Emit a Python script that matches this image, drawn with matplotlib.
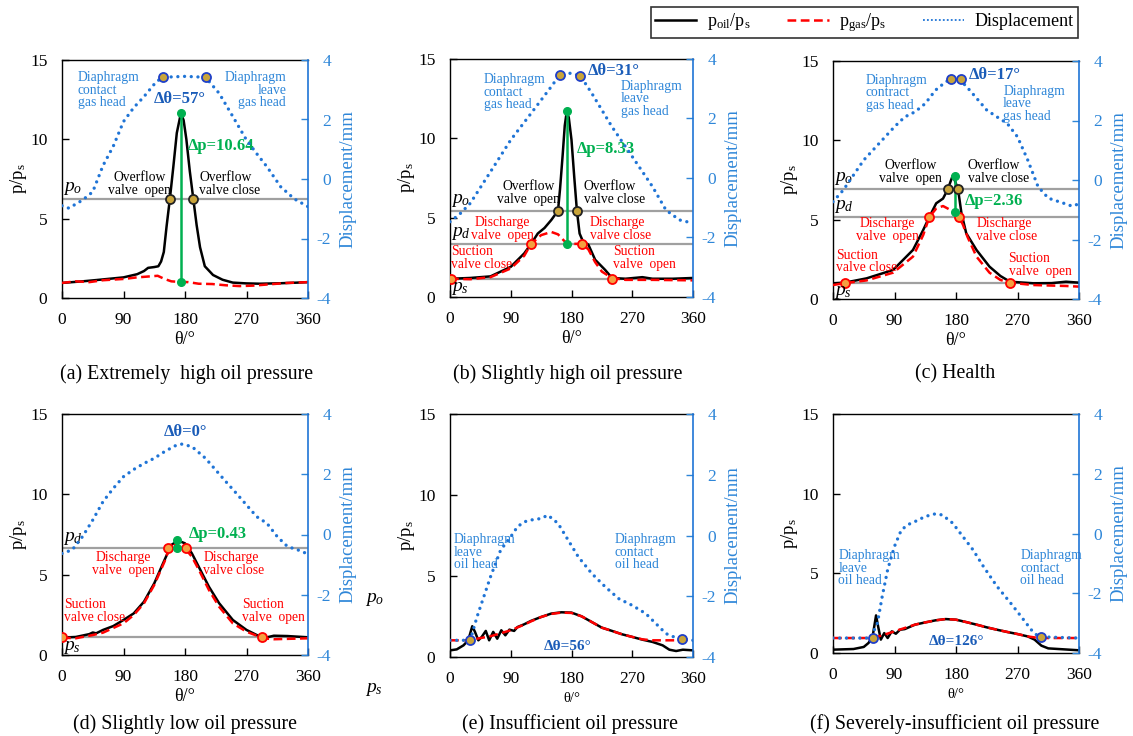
import matplotlib
matplotlib.use('Agg')
import matplotlib.pyplot as plt
from matplotlib.lines import Line2D

plt.rcParams['font.family'] = ['Liberation Serif', 'DejaVu Serif']
plt.rcParams['mathtext.fontset'] = 'custom'
plt.rcParams['mathtext.rm'] = 'Liberation Serif'
plt.rcParams['mathtext.it'] = 'Liberation Serif:italic'
plt.rcParams['mathtext.bf'] = 'Liberation Serif:bold'
plt.rcParams['axes.unicode_minus'] = False

# ---------------- data ----------------
XTICKS = [0, 90, 180, 270, 360]
YTICKS = [0, 5, 10, 15]
DTICKS = [-4, -2, 0, 2, 4]

# (a) Extremely high oil pressure
A_OIL_T = [0, 15, 30, 55, 90, 110, 120, 126, 135, 141, 145, 149, 153, 158, 163, 168, 174, 178, 182, 187, 192, 197, 202, 209, 221, 235, 250, 270, 290, 320, 345, 360]
A_OIL = [0.95, 1.0, 1.05, 1.15, 1.3, 1.5, 1.7, 1.9, 1.95, 2.0, 2.3, 2.9, 4.5, 6.3, 8.3, 10.4, 11.65, 11.2, 10.0, 8.0, 6.3, 4.6, 3.2, 2.0, 1.45, 1.15, 0.97, 0.92, 0.9, 0.93, 0.97, 1.0]
A_GAS_T = [0, 20, 40, 60, 90, 110, 125, 140, 150, 160, 170, 185, 200, 220, 240, 260, 280, 300, 330, 360]
A_GAS = [0.95, 1.05, 1.0, 1.12, 1.2, 1.3, 1.35, 1.4, 1.2, 1.05, 1.02, 1.0, 0.9, 0.88, 0.8, 0.75, 0.78, 0.85, 0.95, 1.0]
A_DISP_T = [0, 10, 30, 45, 60, 75, 90, 105, 120, 138, 148, 180, 210, 230, 250, 270, 285, 300, 320, 340, 360]
A_DISP = [-0.9, -0.98, -0.71, -0.43, 0.45, 1.1, 1.93, 2.4, 2.77, 3.27, 3.42, 3.45, 3.42, 2.88, 2.1, 1.31, 0.85, 0.41, -0.26, -0.67, -0.93]
A_PO = 6.25
A_OVERFLOW_T = [158, 192]
A_DIAPH_T = [148, 210]
A_DIAPH_D = [3.42, 3.42]
A_DP = (174, 1.02, 11.65)

# (b) Slightly high oil pressure
B_OIL_T = [0, 30, 60, 90, 110, 120, 130, 140, 150, 160, 163, 167, 170, 173, 176, 180, 184, 188, 192, 197, 205, 215, 230, 240, 260, 285, 300, 330, 360]
B_OIL = [1.15, 1.2, 1.3, 1.9, 2.75, 3.34, 4.0, 4.35, 4.85, 5.44, 6.8, 9.0, 10.8, 11.7, 11.3, 9.9, 7.6, 5.44, 4.0, 3.5, 3.3, 2.35, 1.7, 1.2, 1.15, 1.25, 1.15, 1.15, 1.2]
B_GAS_T = [0, 30, 60, 90, 110, 120, 135, 150, 160, 170, 180, 190, 197, 205, 215, 225, 240, 260, 300, 360]
B_GAS = [1.15, 1.12, 1.25, 1.8, 2.6, 3.34, 3.9, 4.1, 3.95, 3.5, 3.35, 3.35, 3.3, 3.0, 2.2, 1.6, 1.2, 1.08, 1.08, 1.05]
B_DISP_T = [0, 15, 30, 60, 90, 120, 150, 162, 178, 193, 210, 240, 270, 300, 320, 340, 360]
B_DISP = [-1.47, -1.2, -0.85, 0.21, 1.28, 2.17, 3.07, 3.45, 3.52, 3.44, 2.85, 1.72, 0.72, -0.29, -1.08, -1.41, -1.52]
B_PO, B_PD, B_PS = 5.44, 3.34, 1.15
B_OVERFLOW_T = [160, 188]
B_DISCHARGE_T = [120, 195]
B_SUCTION_T = [1, 240]
B_DIAPH_T = [163, 193]
B_DIAPH_D = [3.45, 3.44]
B_DP = (174, 3.37, 11.7)

# (c) Health
C_OIL_T = [0, 17, 49, 88, 117, 132, 141, 151, 161, 168, 172, 175, 178, 183, 188, 195, 210, 229, 245, 259, 293, 320, 341, 360]
C_OIL = [0.99, 1.03, 1.3, 1.83, 3.09, 4.35, 5.17, 6.03, 6.33, 6.91, 7.4, 7.75, 7.5, 6.91, 5.4, 4.14, 3.09, 2.04, 1.45, 1.09, 0.99, 1.0, 1.09, 1.03]
C_GAS_T = [0, 17, 49, 88, 117, 132, 141, 151, 161, 168, 178, 184, 190, 197, 210, 229, 245, 259, 293, 341, 360]
C_GAS = [0.88, 1.0, 1.17, 1.66, 2.67, 4.03, 5.17, 5.7, 5.86, 5.7, 5.46, 5.17, 4.7, 3.9, 2.67, 1.66, 1.2, 1.03, 0.88, 0.82, 0.78]
C_DISP_T = [0, 15, 45, 90, 105, 120, 135, 150, 165, 173, 186, 200, 225, 240, 255, 270, 285, 300, 315, 340, 350, 360]
C_DISP = [-0.73, -0.34, 0.67, 1.79, 2.12, 2.29, 2.57, 3.02, 3.30, 3.39, 3.37, 3.02, 2.35, 2.12, 1.9, 1.45, 0.67, -0.22, -0.61, -0.8, -0.88, -0.8]
C_PO, C_PD, C_PS = 6.93, 5.17, 1.03
C_OVERFLOW_T = [168, 183]
C_DISCHARGE_T = [141, 184]
C_SUCTION_T = [17, 259]
C_DIAPH_T = [172, 188]
C_DIAPH_D = [3.39, 3.39]
C_DP = (178, 5.46, 7.77)

# (d) Slightly low oil pressure
D_OIL_T = [0, 20, 40, 45, 50, 60, 75, 90, 105, 120, 135, 150, 160, 170, 180, 190, 200, 215, 230, 250, 270, 290, 300, 310, 330, 360]
D_OIL = [1.08, 1.12, 1.3, 1.4, 1.35, 1.56, 1.8, 2.18, 2.59, 3.32, 4.46, 5.91, 6.85, 7.12, 6.95, 6.33, 5.5, 4.25, 3.22, 2.18, 1.56, 1.14, 1.1, 1.2, 1.18, 1.1]
D_GAS_T = [0, 20, 45, 60, 90, 105, 120, 135, 150, 157, 165, 170, 180, 190, 200, 215, 230, 250, 270, 295, 310, 360]
D_GAS = [1.08, 1.04, 1.24, 1.39, 1.97, 2.49, 3.22, 4.36, 5.81, 6.64, 6.85, 6.7, 6.64, 6.12, 5.33, 4.05, 3.0, 1.97, 1.45, 1.04, 0.98, 1.04]
D_DISP_T = [0, 15, 30, 45, 60, 75, 90, 105, 120, 135, 150, 165, 175, 190, 210, 225, 240, 255, 270, 285, 300, 315, 330, 345, 360]
D_DISP = [-0.63, -0.51, -0.07, 0.48, 1.09, 1.53, 1.92, 2.16, 2.36, 2.53, 2.75, 2.94, 3.0, 2.92, 2.53, 2.14, 1.75, 1.37, 0.98, 0.59, 0.37, -0.07, -0.4, -0.51, -0.65]
D_PD, D_PS = 6.64, 1.12
D_DISCHARGE_T = [155, 181]
D_SUCTION_T = [0, 293]
D_DP = (169, 6.67, 7.15)

# (e) Insufficient oil pressure
E_OIL_T = [0, 10, 20, 27, 33, 37, 42, 47, 53, 58, 64, 70, 76, 82, 88, 95, 100, 110, 120, 135, 150, 165, 180, 195, 210, 225, 240, 255, 270, 285, 300, 315, 325, 335, 345, 360]
E_OIL = [0.41, 0.47, 0.72, 1.03, 1.9, 1.55, 1.03, 1.24, 1.61, 1.03, 1.55, 1.13, 1.65, 1.34, 1.69, 1.61, 1.85, 2.02, 2.23, 2.47, 2.68, 2.76, 2.74, 2.51, 2.16, 1.81, 1.61, 1.40, 1.24, 1.07, 0.93, 0.72, 0.45, 0.37, 0.45, 0.41]
E_GAS_T = [0, 30, 40, 60, 90, 110, 120, 135, 150, 165, 180, 195, 210, 225, 240, 255, 270, 285, 300, 330, 360]
E_GAS = [1.03, 1.03, 1.13, 1.28, 1.65, 2.0, 2.2, 2.47, 2.66, 2.74, 2.72, 2.51, 2.16, 1.81, 1.61, 1.40, 1.24, 1.09, 1.03, 1.03, 1.03]
E_DISP_T = [0, 30, 40, 50, 60, 75, 90, 100, 110, 120, 135, 145, 160, 175, 190, 210, 230, 250, 270, 290, 305, 320, 335, 343, 360]
E_DISP = [-3.45, -3.45, -2.68, -2.02, -1.36, -0.48, -0.04, 0.29, 0.45, 0.51, 0.56, 0.67, 0.40, -0.15, -0.70, -1.25, -1.69, -2.08, -2.30, -2.57, -2.90, -3.23, -3.37, -3.40, -3.45]
E_DIAPH_T = [30, 343]
E_DIAPH_D = [-3.45, -3.40]

# (f) Severely-insufficient oil pressure
F_OIL_T = [0, 30, 45, 52, 58, 63, 66, 70, 75, 80, 86, 92, 98, 105, 120, 135, 150, 165, 180, 195, 210, 225, 240, 255, 270, 285, 295, 305, 315, 330, 345, 360]
F_OIL = [0.21, 0.25, 0.38, 0.63, 1.04, 2.36, 1.67, 0.84, 1.25, 0.94, 1.36, 1.21, 1.46, 1.50, 1.78, 1.92, 2.05, 2.13, 2.09, 1.94, 1.78, 1.61, 1.46, 1.32, 1.19, 1.04, 0.84, 0.46, 0.29, 0.25, 0.21, 0.17]
F_GAS_T = [0, 55, 60, 75, 90, 105, 120, 135, 150, 165, 180, 195, 210, 225, 240, 255, 270, 285, 298, 310, 360]
F_GAS = [0.94, 0.94, 0.96, 1.15, 1.36, 1.57, 1.78, 1.92, 2.05, 2.13, 2.09, 1.94, 1.78, 1.61, 1.46, 1.32, 1.19, 1.04, 0.96, 0.94, 0.94]
F_DISP_T = [0, 55, 65, 72, 80, 90, 100, 110, 120, 135, 150, 160, 175, 190, 205, 220, 240, 260, 275, 290, 300, 305, 360]
F_DISP = [-3.5, -3.5, -3.0, -2.11, -1.21, -0.43, 0.12, 0.30, 0.40, 0.57, 0.66, 0.62, 0.35, -0.10, -0.55, -1.10, -1.77, -2.33, -2.77, -3.22, -3.44, -3.46, -3.5]
F_DIAPH_T = [58, 305]
F_DIAPH_D = [-3.5, -3.46]

# ---------------- style ----------------
BLUE_LINE = '#1F74D6'
BLUE_TXT = '#2E86D8'
BLUE_DT = '#1A5CB8'
RED = '#FF0000'
GREEN = '#00B050'
GREY = '#A0A0A0'
GOLD = '#C9A43A'
ORANGE = '#F4A040'
FS_TICK = 12.5
FS_LAB = 13.5
FS_ANN = 9.8
FS_BIG = 12
DOT = (0, (0.01, 2.0))

W, H = 1133, 736
fig = plt.figure(figsize=(W / 100, H / 100), dpi=100)


def axes_px(l, t, r, b):
    return fig.add_axes([l / W, 1 - b / H, (r - l) / W, (b - t) / H])


def draw_panel(box, oil_t, oil, gas_t, gas, d_t, d, small_xlabel=False):
    ax = axes_px(*box)
    ax.plot(oil_t, oil, color='black', lw=1.8, zorder=3)
    ax.plot(gas_t, gas, color=RED, lw=1.8, ls=(0, (3.5, 1.8)), zorder=4)
    ax.set_xlim(0, 360)
    ax.set_ylim(0, 15)
    ax.set_xticks(XTICKS)
    ax.set_yticks(YTICKS)
    ax.tick_params(direction='in', labelsize=FS_TICK, length=5, width=1)
    ax.tick_params(axis='x', pad=10)
    ax.tick_params(axis='y', pad=10.5)
    ax.set_ylabel('p/p$_{\\rm s}$', fontsize=FS_LAB, labelpad=1)
    if small_xlabel:
        ax.set_xlabel('θ/°', fontsize=10.5, labelpad=4)
    else:
        ax.set_xlabel('θ/°', fontsize=13, labelpad=2)
    ax.spines['right'].set_visible(False)
    for s in ['left', 'bottom', 'top']:
        ax.spines[s].set_linewidth(1.0)
    ax2 = ax.twinx()
    ax2.plot(d_t, d, color=BLUE_LINE, lw=2.4, ls=DOT,
             dash_capstyle='round', zorder=2)
    ax2.set_ylim(-4, 4)
    ax2.set_yticks(DTICKS)
    ax2.tick_params(direction='in', labelsize=FS_TICK, length=5, width=1,
                    colors=BLUE_TXT, pad=16.5)
    for lab in ax2.get_yticklabels():
        lab.set_horizontalalignment('right')
    ax2.spines['right'].set_color(BLUE_LINE)
    ax2.spines['right'].set_linewidth(1.2)
    ax2.set_ylabel('Displacement/mm', fontsize=FS_LAB, color=BLUE_TXT, labelpad=6)
    for s in ['left', 'bottom', 'top']:
        ax2.spines[s].set_visible(False)
    return ax, ax2


def hline(ax, y):
    ax.axhline(y, color=GREY, lw=1.6, zorder=1)


def mark(ax, xs, ys, kind):
    if kind == 'overflow':
        fc, ec = GOLD, '#222222'
    elif kind == 'valve':
        fc, ec = ORANGE, RED
    else:
        fc, ec = GOLD, '#1F3FC8'
    ax.plot(xs, ys, ls='none', marker='o', ms=6.5, mfc=fc, mec=ec, mew=1.3, zorder=6)


def dp(ax, spec):
    x, y0, y1 = spec
    ax.plot([x, x], [y0, y1], color=GREEN, lw=1.8, zorder=5)
    ax.plot([x, x], [y0, y1], ls='none', marker='o', ms=5.5, color=GREEN, zorder=6)


def txt(ax, x, y, s, color='black', ha='left', va='center', size=FS_ANN, **kw):
    ax.text(x, y, s, color=color, ha=ha, va=va, fontsize=size,
            linespacing=0.95, zorder=7, **kw)


def plabel(ax, x, y, sub, va='bottom'):
    ax.text(x, y, '$p_{%s}$' % sub, fontsize=14, va=va, ha='left', zorder=7)


# ---------- (a) ----------
ax, ax2 = draw_panel((62, 60, 308, 298), A_OIL_T, A_OIL, A_GAS_T, A_GAS, A_DISP_T, A_DISP)
hline(ax, A_PO)
mark(ax, A_OVERFLOW_T, [A_PO] * 2, 'overflow')
mark(ax2, A_DIAPH_T, A_DIAPH_D, 'diaph')
dp(ax, A_DP)
plabel(ax, 2, A_PO + 0.1, 'o')
txt(ax, 23, 14.3, 'Diaphragm\ncontact\ngas head', BLUE_TXT, va='top')
txt(ax, 328, 14.3, 'Diaphragm\nleave\ngas head', BLUE_TXT, ha='right', va='top')
txt(ax, 173, 12.55, 'Δθ=57°', BLUE_DT, ha='center', size=FS_BIG, fontweight='bold')
txt(ax, 184, 9.55, 'Δp=10.64', GREEN, size=FS_BIG, fontweight='bold')
txt(ax, 114, 7.2, 'Overflow\nvalve  open', ha='center')
txt(ax, 201, 7.2, 'Overflow\nvalve close')

# ---------- (b) ----------
ax, ax2 = draw_panel((450, 59, 693, 297), B_OIL_T, B_OIL, B_GAS_T, B_GAS, B_DISP_T, B_DISP)
for yv in (B_PO, B_PD, B_PS):
    hline(ax, yv)
mark(ax, B_OVERFLOW_T, [B_PO] * 2, 'overflow')
mark(ax, B_DISCHARGE_T, [B_PD] * 2, 'valve')
mark(ax, B_SUCTION_T, [B_PS] * 2, 'valve')
mark(ax2, B_DIAPH_T, B_DIAPH_D, 'diaph')
dp(ax, B_DP)
plabel(ax, 2, B_PO + 0.1, 'o')
plabel(ax, 2, B_PD + 0.1, 'd')
plabel(ax, 2, B_PS - 0.1, 's', va='top')
txt(ax, 50, 14.1, 'Diaphragm\ncontact\ngas head', BLUE_TXT, va='top')
txt(ax, 204, 14.25, 'Δθ=31°', BLUE_DT, size=FS_BIG, fontweight='bold')
txt(ax, 253, 13.7, 'Diaphragm\nleave\ngas head', BLUE_TXT, va='top')
txt(ax, 188, 9.3, 'Δp=8.33', GREEN, size=FS_BIG, fontweight='bold')
txt(ax, 116, 6.55, 'Overflow\nvalve  open', ha='center')
txt(ax, 198, 6.55, 'Overflow\nvalve close')
txt(ax, 77, 4.3, 'Discharge\nvalve  open', RED, ha='center')
txt(ax, 207, 4.3, 'Discharge\nvalve close', RED)
txt(ax, 2, 2.45, 'Suction\nvalve close', RED)
txt(ax, 241, 2.45, 'Suction\nvalve  open', RED)

# ---------- (c) ----------
ax, ax2 = draw_panel((833, 61, 1079, 299), C_OIL_T, C_OIL, C_GAS_T, C_GAS, C_DISP_T, C_DISP)
for yv in (C_PO, C_PD, C_PS):
    hline(ax, yv)
mark(ax, C_OVERFLOW_T, [C_PO] * 2, 'overflow')
mark(ax, C_DISCHARGE_T, [C_PD] * 2, 'valve')
mark(ax, C_SUCTION_T, [C_PS] * 2, 'valve')
mark(ax2, C_DIAPH_T, C_DIAPH_D, 'diaph')
dp(ax, C_DP)
plabel(ax, 2, C_PO + 0.1, 'o')
plabel(ax, 2, C_PD + 0.15, 'd')
plabel(ax, 2, C_PS - 0.1, 's', va='top')
txt(ax, 48, 14.2, 'Diaphragm\ncontract\ngas head', BLUE_TXT, va='top')
txt(ax, 198, 14.1, 'Δθ=17°', BLUE_DT, size=FS_BIG, fontweight='bold')
txt(ax, 249, 13.5, 'Diaphragm\nleave\ngas head', BLUE_TXT, va='top')
txt(ax, 113, 8.0, 'Overflow\nvalve  open', ha='center')
txt(ax, 197, 8.0, 'Overflow\nvalve close')
txt(ax, 193, 6.15, 'Δp=2.36', GREEN, size=FS_BIG, fontweight='bold')
txt(ax, 80, 4.35, 'Discharge\nvalve  open', RED, ha='center')
txt(ax, 210, 4.35, 'Discharge\nvalve close', RED)
txt(ax, 4, 2.35, 'Suction\nvalve close', RED)
txt(ax, 257, 2.15, 'Suction\nvalve  open', RED)

# ---------- (d) ----------
ax, ax2 = draw_panel((62, 414, 308, 655), D_OIL_T, D_OIL, D_GAS_T, D_GAS, D_DISP_T, D_DISP)
for yv in (D_PD, D_PS):
    hline(ax, yv)
mark(ax, D_DISCHARGE_T, [D_PD] * 2, 'valve')
mark(ax, D_SUCTION_T, [D_PS] * 2, 'valve')
dp(ax, D_DP)
plabel(ax, 2, D_PD + 0.1, 'd')
plabel(ax, 2, D_PS - 0.1, 's', va='top')
txt(ax, 180, 13.85, 'Δθ=0°', BLUE_DT, ha='center', size=FS_BIG, fontweight='bold')
txt(ax, 185, 7.5, 'Δp=0.43', GREEN, size=FS_BIG, fontweight='bold')
txt(ax, 90, 5.65, 'Discharge\nvalve  open', RED, ha='center')
txt(ax, 207, 5.65, 'Discharge\nvalve close', RED)
txt(ax, 3, 2.75, 'Suction\nvalve close', RED)
txt(ax, 264, 2.75, 'Suction\nvalve  open', RED)

# ---------- (e) ----------
ax, ax2 = draw_panel((450, 414, 693, 657), E_OIL_T, E_OIL, E_GAS_T, E_GAS, E_DISP_T, E_DISP,
                     small_xlabel=True)
mark(ax2, E_DIAPH_T, E_DIAPH_D, 'diaph')
txt(ax, 6, 7.65, 'Diaphragm\nleave\noil head', BLUE_TXT, va='top')
txt(ax, 244, 7.65, 'Diaphragm\ncontact\noil head', BLUE_TXT, va='top')
txt(ax, 175, 0.62, 'Δθ=56°', BLUE_DT, ha='center', size=11, fontweight='bold')

# ---------- (f) ----------
ax, ax2 = draw_panel((833, 414, 1079, 653), F_OIL_T, F_OIL, F_GAS_T, F_GAS, F_DISP_T, F_DISP,
                     small_xlabel=True)
mark(ax2, F_DIAPH_T, F_DIAPH_D, 'diaph')
txt(ax, 8, 6.5, 'Diaphragm\nleave\noil head', BLUE_TXT, va='top')
txt(ax, 274, 6.5, 'Diaphragm\ncontact\noil head', BLUE_TXT, va='top')
txt(ax, 181, 0.73, 'Δθ=126°', BLUE_DT, ha='center', size=11, fontweight='bold')

# ---------- captions ----------
CAPTIONS = [((187, 374), '(a) Extremely  high oil pressure'),
            ((568, 374), '(b) Slightly high oil pressure'),
            ((955, 374), '(c) Health'),
            ((185, 724), '(d) Slightly low oil pressure'),
            ((570, 724), '(e) Insufficient oil pressure'),
            ((955, 724), '(f) Severely-insufficient oil pressure')]
for (px, py), s in CAPTIONS:
    fig.text(px / W, 1 - py / H, s, ha='center', va='center', fontsize=14.3)

# stray labels between (d) and (e)
fig.text(365 / W, 1 - 600 / H, '$p_o$', fontsize=14, ha='left', va='center')
fig.text(365 / W, 1 - 690 / H, '$p_s$', fontsize=14, ha='left', va='center')

# ---------- legend ----------
handles = [Line2D([], [], color='black', lw=1.8),
           Line2D([], [], color=RED, lw=1.8, ls=(0, (3.5, 1.8))),
           Line2D([], [], color=BLUE_LINE, lw=1.3, ls=(0, (1, 1.2)))]
labels = ['p$_{\\rm oil}$/p$_{\\rm s}$', 'p$_{\\rm gas}$/p$_{\\rm s}$', 'Displacement']
leg = fig.legend(handles, labels, loc='upper right', bbox_to_anchor=(1078 / W, 1 - 7 / H),
                 ncol=3, fontsize=13, frameon=True, fancybox=False, edgecolor='black',
                 handlelength=2.3, columnspacing=2.0, borderpad=0.22, handletextpad=0.6,
                 borderaxespad=0)
leg.get_frame().set_linewidth(1.2)

fig.savefig('out.png', dpi=100)
